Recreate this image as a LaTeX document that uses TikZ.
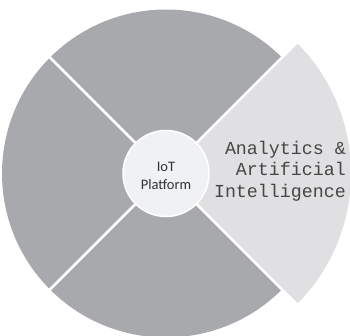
\documentclass[tikz,border=0pt]{standalone}
\usepackage{fontspec}
\newfontfamily\monof{Liberation Mono}
\newfontfamily\carl{Carlito}
\definecolor{graysec}{RGB}{168,169,172}
\definecolor{lightsec}{RGB}{224,224,226}
\definecolor{corefill}{RGB}{240,241,243}
\definecolor{monotext}{RGB}{70,70,70}
\definecolor{coretext}{RGB}{51,51,51}
\begin{document}
\begin{tikzpicture}[x=1pt,y=1pt,
  gap/.style={white, line width=2.5pt},
  corecircle/.style={circle, fill=corefill, draw=white, line width=1.5pt, minimum size=86pt, inner sep=0pt},
  corelabel/.style={text=coretext, font=\carl\fontsize{14.5}{17.5}\selectfont, align=center, inner sep=0pt},
  seclabel/.style={text=monotext, font=\monof\fontsize{18.3}{21.5}\selectfont, align=right, inner sep=0pt}]
\useasboundingbox (0,0) rectangle (350,335);
\coordinate (c) at (166,161.5);
\fill[lightsec] (c) -- ++(-45:185) arc (-45:45:185) -- cycle;
\fill[graysec] (c) -- ++(45:164) arc (45:315:164) -- cycle;
\foreach \a in {45,135,225,315} \draw[gap] (c) -- ++(\a:192);
\node[corecircle] (core) at (c) {};
\node[corelabel] (corelbl) at ([yshift=-2.5pt]c) {IoT\\Platform};
\node[seclabel, anchor=east] (ai) at (346,164) {Analytics \&\\Artificial\\Intelligence};
\end{tikzpicture}
\end{document}
